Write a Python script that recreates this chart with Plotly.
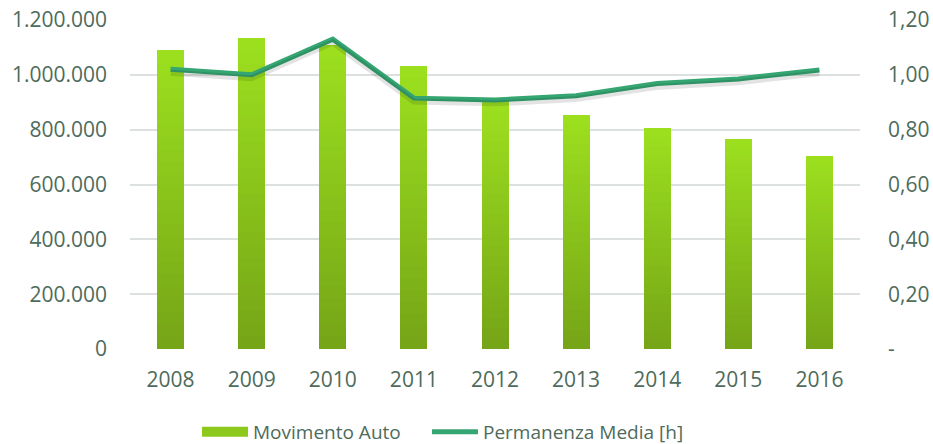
import plotly.graph_objects as go

years = ["2008", "2009", "2010", "2011", "2012", "2013", "2014", "2015", "2016"]
movimento_auto = [1090000, 1134000, 1110000, 1032000, 906000, 853000, 806000, 766000, 704000]
permanenza_media = [1.02, 1.00, 1.13, 0.915, 0.908, 0.924, 0.968, 0.985, 1.018]

left_tickvals = [0, 200000, 400000, 600000, 800000, 1000000, 1200000]
left_ticktext = ["0", "200.000", "400.000", "600.000", "800.000", "1.000.000", "1.200.000"]
right_tickvals = [0, 0.2, 0.4, 0.6, 0.8, 1.0, 1.2]
right_ticktext = ["-", "0,20", "0,40", "0,60", "0,80", "1,00", "1,20"]

FONT = "Open Sans"
TXT = "#4E6B5C"
GRID = "#DCE1DF"

# gradient colours from bottom (dark) to top (light)
N = 24
c0 = (0x76, 0xA6, 0x17)
c1 = (0x9C, 0xDF, 0x1F)
def mix(t):
    return "rgb(%d,%d,%d)" % tuple(round(a + (b - a) * t) for a, b in zip(c0, c1))

fig = go.Figure()
for i in range(N):
    fig.add_trace(go.Bar(
        x=years, y=[v / N for v in movimento_auto],
        marker=dict(color=mix(i / (N - 1)), line=dict(width=0)),
        showlegend=False, hoverinfo="skip", yaxis="y",
    ))
# legend entry for the bars (wide block symbol)
fig.add_trace(go.Scatter(
    x=[None], y=[None], name="Movimento Auto", mode="lines",
    line=dict(color=mix(0.6), width=15), showlegend=True, legend="legend",
))
# soft shadow under the line
fig.add_trace(go.Scatter(
    x=years, y=permanenza_media, mode="lines", showlegend=False, hoverinfo="skip",
    line=dict(color="rgba(0,0,0,0.11)", width=6), yaxis="y3",
))
fig.add_trace(go.Scatter(
    x=years, y=permanenza_media, name="Permanenza Media [h]",
    mode="lines", line=dict(color="#35A572", width=5), yaxis="y2", legend="legend2",
))

leg_common = dict(orientation="h", xanchor="left", y=-0.252, yanchor="middle",
                  font=dict(size=19, color=TXT), itemwidth=46, bgcolor="rgba(0,0,0,0)")

fig.update_layout(
    width=933, height=444,
    margin=dict(l=130, r=73, t=20, b=95, autoexpand=False),
    paper_bgcolor="white", plot_bgcolor="white",
    barmode="stack", bargap=0.667,
    font=dict(family=FONT, size=21, color=TXT),
    xaxis=dict(showgrid=False, showline=False, ticks="", ticklabelstandoff=16,
               tickfont=dict(size=21, color=TXT)),
    yaxis=dict(range=[0, 1200000], tickvals=left_tickvals, ticktext=left_ticktext,
               showgrid=True, gridcolor=GRID, gridwidth=1.5, zeroline=False,
               ticks="", ticklabelstandoff=22, tickfont=dict(size=21, color=TXT)),
    yaxis2=dict(range=[0, 1.2], overlaying="y", side="right", tickvals=right_tickvals,
                ticktext=right_ticktext, showgrid=False, zeroline=False, ticks="",
                ticklabelstandoff=27, tickfont=dict(size=21, color=TXT)),
    yaxis3=dict(range=[0.012, 1.212], overlaying="y", visible=False),
    legend=dict(x=0.0918, **leg_common),
    legend2=dict(x=0.4068, **leg_common),
    showlegend=True,
)

fig.write_html("out.html", config={"displayModeBar": False},
               post_script="document.body.style.margin='0';")
